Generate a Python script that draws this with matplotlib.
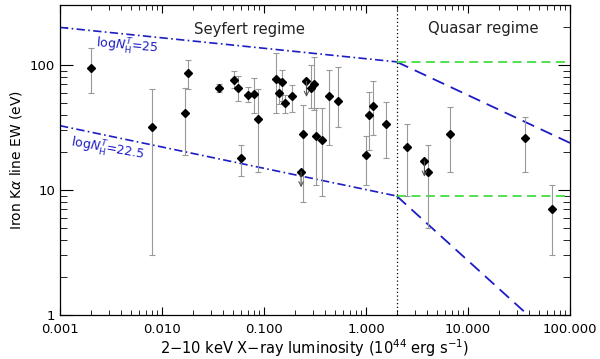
import matplotlib
matplotlib.use("Agg")
import matplotlib.pyplot as plt
import numpy as np

plt.rcParams['font.family'] = ['DejaVu Sans']
plt.rcParams['mathtext.fontset'] = 'dejavusans'

# Detected sources: luminosity (1e44 erg/s), EW (eV), upper / lower error bounds
lum = [0.0020, 0.0080, 0.0169, 0.0181, 0.036, 0.0508, 0.0553, 0.0591, 0.0697,
       0.0803, 0.0869, 0.130, 0.140, 0.150, 0.161, 0.189, 0.239, 0.289, 0.312,
       0.320, 0.367, 0.438, 0.535, 1.01, 1.07, 1.17, 1.56, 2.53, 4.08, 6.66,
       36.6, 66.0]
ew = [94, 32, 41, 87, 65, 76, 66, 18, 58,
      59, 37, 78, 60, 73, 50, 56.5, 28, 66, 71,
      27, 25, 57, 52, 19, 40, 47, 34, 22, 14, 28,
      26, 7.0]
ew_hi = [136, 64, 65, 110, 70, 89.5, 81, 23, 67,
         79, 64, 125, 73, 92, 58, 69, 48, 100, 115,
         45, 45, 91, 96, 27, 61, 74, 51, 34, 23, 46,
         38.6, 11]
ew_lo = [60, 3.0, 19, 64, 60.5, 65, 52, 13, 51,
         41, 14, 41, 49, 52, 41, 42, 8, 45, 44,
         11, 9, 23, 32, 11, 21, 27.5, 18, 9, 5.0, 14,
         14, 3.0]

# Upper limits
lum_ul = [0.231, 0.261, 3.74]
ew_ul = [14, 74, 17]

# Model curves (logN_H^T = 25 and 22.5)
sey_L = [0.001, 2.0]
ew25_sey = [200, 106]
ew225_sey = [32.7, 8.95]
qso_L = [2.0, 100]
ew25_qso = [106, 23.8]
ew225_qso = [8.95, 0.495]
flat_L = [2.0, 95]
L_break = 2.0

fig = plt.figure(figsize=(6.0, 3.59), dpi=100)
ax = fig.add_axes([0.1, 0.1226, 0.85, 0.8634])
ax.set_xscale('log')
ax.set_yscale('log')
ax.set_xlim(0.001, 100)
ax.set_ylim(1, 302)

blue = '#1c1cc4'
green = '#44dd44'

ax.plot(sey_L, ew25_sey, color=blue, lw=1.2, ls=(0, (5, 2, 1, 2)))
ax.plot(sey_L, ew225_sey, color=blue, lw=1.2, ls=(0, (5, 2, 1, 2)))
ax.plot(qso_L, ew25_qso, color=blue, lw=1.3, ls=(0, (7, 4)))
ax.plot(qso_L, ew225_qso, color=blue, lw=1.3, ls=(0, (7, 4)))
ax.plot(flat_L, [ew25_sey[1]] * 2, color=green, lw=1.3, ls=(0, (5, 3)))
ax.plot(flat_L, [ew225_sey[1]] * 2, color=green, lw=1.3, ls=(0, (5, 3)))
ax.axvline(L_break, color='black', lw=0.9, ls=(0, (1, 2)))

ew_a = np.array(ew)
yerr = [ew_a - np.array(ew_lo), np.array(ew_hi) - ew_a]
ax.errorbar(lum, ew, yerr=yerr, fmt='none', ecolor='#999999', elinewidth=0.8,
            capsize=2.5, capthick=0.8)
ax.plot(lum, ew, 'D', color='black', ms=4, mec='black')

ax.plot(lum_ul, ew_ul, 'D', color='black', ms=4)
for x, y in zip(lum_ul, ew_ul):
    ax.annotate('', xy=(x, y * 0.75), xytext=(x, y),
                arrowprops=dict(arrowstyle='->', color='#555555', lw=0.8,
                                shrinkA=0, shrinkB=0, mutation_scale=8))

ax.text(0.0713, 194, 'Seyfert regime', ha='center', va='center', fontsize=10.7,
        color='#222222')
ax.text(14.0, 196, 'Quasar regime', ha='center', va='center', fontsize=10.7,
        color='#222222')
ax.text(0.00454, 140, r'log$N_{\rm H}^{T}$=25', ha='center', va='center',
        fontsize=9, color=blue, rotation=-5)
ax.text(0.00295, 20.9, r'log$N_{\rm H}^{T}$=22.5', ha='center', va='center',
        fontsize=9, color=blue, rotation=-10)

ax.set_xticks([0.001, 0.01, 0.1, 1, 10, 100])
ax.set_xticklabels(['0.001', '0.010', '0.100', '1.000', '10.000', '100.000'])
ax.set_yticks([1, 10, 100])
ax.set_yticklabels(['1', '10', '100'])
ax.tick_params(which='both', direction='in', top=True, right=True,
               labelsize=9.5, colors='black')
ax.tick_params(axis='x', which='major', length=6, pad=6)
ax.tick_params(axis='x', which='minor', length=3.5)
ax.tick_params(axis='y', which='major', length=9)
ax.tick_params(axis='y', which='minor', length=5)
for s in ax.spines.values():
    s.set_linewidth(0.9)

ax.set_xlabel(r'2$-$10 keV X$-$ray luminosity (10$^{44}$ erg s$^{-1}$)',
              fontsize=10.5, labelpad=1)
ax.set_ylabel(r'Iron K$\alpha$ line EW (eV)', fontsize=10, labelpad=4)

fig.savefig('out.png', dpi=100)
